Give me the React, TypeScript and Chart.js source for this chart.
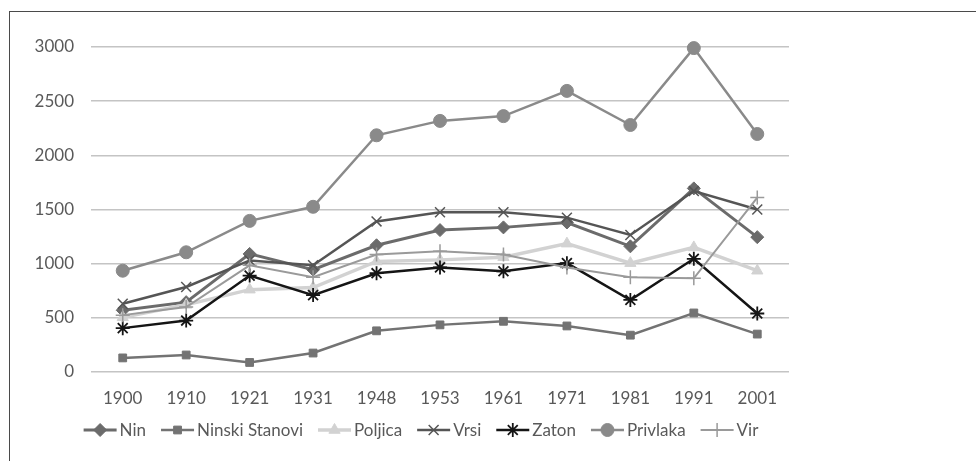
import React, { useEffect, useRef } from 'react';
import { Chart, registerables } from 'chart.js';
import { drawPoint } from 'chart.js/helpers';

Chart.register(...registerables);

const years = ['1900', '1910', '1921', '1931', '1948', '1953', '1961', '1971', '1981', '1991', '2001'];
const nin = [570, 645, 1090, 945, 1170, 1310, 1335, 1380, 1160, 1695, 1245];
const ninskiStanovi = [130, 157, 88, 175, 380, 435, 468, 425, 340, 545, 350];
const poljica = [505, 620, 760, 780, 1020, 1035, 1060, 1185, 1005, 1150, 935];
const vrsi = [630, 785, 1030, 985, 1390, 1475, 1475, 1425, 1265, 1670, 1500];
const zaton = [405, 475, 890, 710, 912, 965, 930, 1005, 665, 1045, 540];
const privlaka = [935, 1105, 1395, 1525, 2185, 2318, 2362, 2595, 2280, 2990, 2197];
const vir = [525, 600, 985, 875, 1085, 1115, 1085, 965, 875, 865, 1610];
const yTicks = [0, 500, 1000, 1500, 2000, 2500, 3000];

const FONT = 'Lato, "Open Sans", sans-serif';
const TEXT = '#595959';
const FSIZE = 17;

const seriesDefs = [
  { label: 'Nin', data: nin, color: '#6b6b6b', width: 3, style: 'rectRot', r: 6.5, bw: 1 },
  { label: 'Ninski Stanovi', data: ninskiStanovi, color: '#737373', width: 2.5, style: 'rect', r: 5.5, bw: 1 },
  { label: 'Poljica', data: poljica, color: '#d2d2d2', width: 3.5, style: 'triangle', r: 6.5, bw: 1 },
  { label: 'Vrsi', data: vrsi, color: '#555555', width: 2.5, style: 'crossRot', r: 7, bw: 1.5 },
  { label: 'Zaton', data: zaton, color: '#151515', width: 2.5, style: 'star', r: 7, bw: 1.8 },
  { label: 'Privlaka', data: privlaka, color: '#8a8a8a', width: 2.5, style: 'circle', r: 6.5, bw: 1 },
  { label: 'Vir', data: vir, color: '#9a9a9a', width: 2, style: 'cross', r: 7, bw: 1.5 },
];

const legendPlugin = {
  id: 'lineLegend',
  afterDraw(chart: any) {
    const ctx = chart.ctx;
    ctx.save();
    ctx.font = `${FSIZE}px ${FONT}`;
    ctx.textBaseline = 'middle';
    const lineLen = 33;
    const gapText = 3;
    const gapItem = 15;
    const y = 430;
    const widths = seriesDefs.map((s) => ctx.measureText(s.label).width);
    const total = widths.reduce((a, w) => a + lineLen + gapText + w, 0) + gapItem * (seriesDefs.length - 1);
    let x = 421 - total / 2;
    seriesDefs.forEach((s, i) => {
      ctx.strokeStyle = s.color;
      ctx.lineWidth = s.width;
      ctx.beginPath();
      ctx.moveTo(x, y);
      ctx.lineTo(x + lineLen, y);
      ctx.stroke();
      ctx.fillStyle = s.color;
      ctx.strokeStyle = s.color;
      ctx.lineWidth = s.bw;
      drawPoint(ctx, { pointStyle: s.style, radius: s.r, rotation: 0, borderWidth: s.bw } as any, x + lineLen / 2, y);
      ctx.fillStyle = TEXT;
      ctx.textAlign = 'left';
      ctx.fillText(s.label, x + lineLen + gapText, y + 1);
      x += lineLen + gapText + widths[i] + gapItem;
    });
    ctx.restore();
  },
};

export default function App() {
  const ref = useRef<HTMLCanvasElement>(null);
  useEffect(() => {
    if (!ref.current) return;
    const chart = new Chart(ref.current, {
      type: 'line',
      data: {
        labels: years,
        datasets: seriesDefs.map((s, i) => ({
          label: s.label,
          data: s.data,
          borderColor: s.color,
          backgroundColor: s.color,
          borderWidth: s.width,
          pointStyle: s.style as any,
          pointRadius: s.r,
          pointBorderWidth: s.bw,
          pointBackgroundColor: s.color,
          pointBorderColor: s.color,
          tension: 0,
          fill: false,
          clip: false as any,
          order: seriesDefs.length - i,
        })),
      },
      options: {
        animation: false,
        responsive: false,
        maintainAspectRatio: false,
        layout: { padding: { left: 0, top: 47, right: 187, bottom: 0 } },
        plugins: { legend: { display: false }, tooltip: { enabled: false } },
        scales: {
          x: {
            offset: true,
            grid: { display: false },
            border: { display: false },
            ticks: { color: TEXT, font: { family: FONT, size: FSIZE }, padding: 8, maxRotation: 0 },
            afterFit: (scale: any) => {
              scale.height = 89;
            },
          },
          y: {
            min: 0,
            max: 3000,
            afterBuildTicks: (scale: any) => {
              scale.ticks = yTicks.map((v) => ({ value: v }));
            },
            grid: { color: '#c4c4c4', lineWidth: 1.5, drawTicks: false },
            border: { display: false },
            ticks: {
              color: TEXT,
              font: { family: FONT, size: FSIZE },
              padding: 17,
              callback: (v: any) => String(v),
            },
            afterFit: (scale: any) => {
              scale.width = 91;
            },
          },
        },
      },
      plugins: [legendPlugin],
    });
    return () => chart.destroy();
  }, []);
  return (
    <div style={{ position: 'absolute', left: 0, top: 0, width: 976, height: 461, background: '#fff', overflow: 'hidden' }}>
      <div style={{ position: 'absolute', left: 9, top: 11, width: 980, height: 460, borderTop: '1.5px solid #4a4a4a', borderLeft: '1.5px solid #4a4a4a' }} />
      <canvas ref={ref} width={976} height={461} style={{ position: 'absolute', left: 0, top: 0, width: 976, height: 461 }} />
    </div>
  );
}
